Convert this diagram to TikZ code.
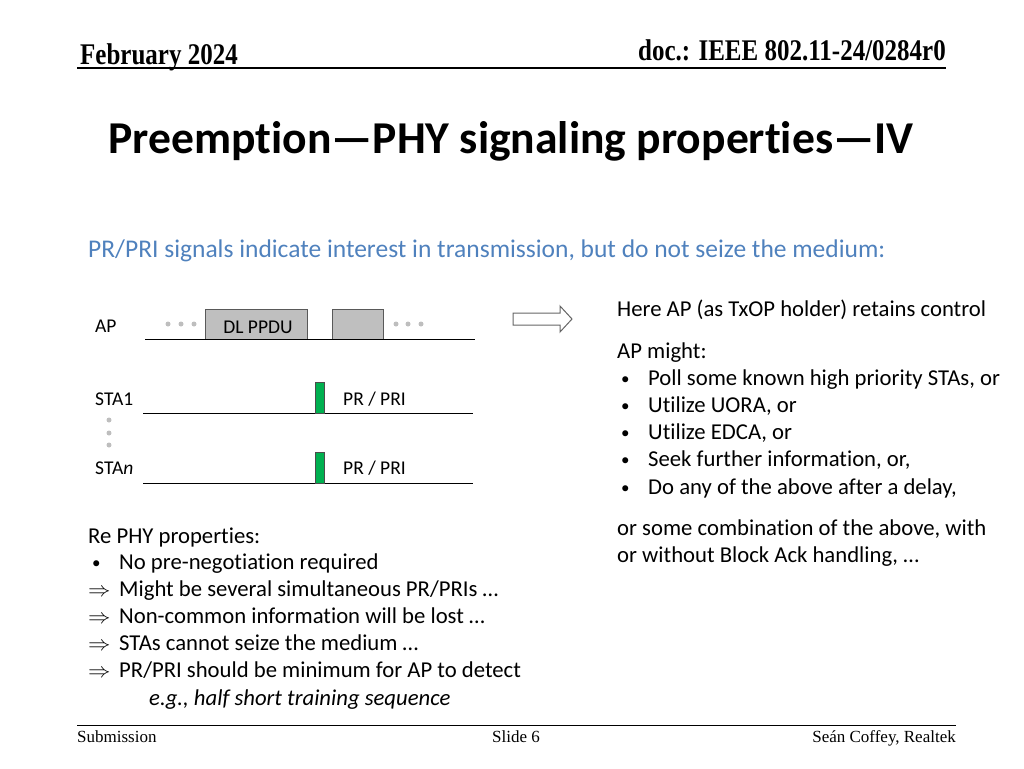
\documentclass[tikz,border=0pt]{standalone}
\usepackage{fontspec}
\usepackage{graphicx}
\setmainfont{Carlito}[Ligatures={NoCommon}]
\newfontfamily\timesf{Liberation Serif}
\definecolor{bluet}{RGB}{79,129,189}
\definecolor{boxgray}{RGB}{191,191,191}
\definecolor{boxedge}{RGB}{89,89,89}
\definecolor{dotgray}{RGB}{190,190,190}
\definecolor{pgreen}{RGB}{0,176,80}
\newcommand{\bul}{\makebox[31pt][l]{\hspace{4pt}\raisebox{1pt}{\fontsize{17}{17}\selectfont •}}}
\newcommand{\impl}{\makebox[31pt][l]{\scalebox{1.08}[1]{$\Rightarrow$}}}
\tikzset{
  body/.style={anchor=base west,inner sep=0pt,font=\fontsize{22.7}{27}\selectfont},
  diag/.style={anchor=base west,inner sep=0pt,font=\fontsize{19.5}{23}\selectfont},
  hdr/.style={inner sep=0pt,font=\timesf\bfseries\fontsize{25}{30}\selectfont},
  ftr/.style={inner sep=0pt,font=\timesf\fontsize{17}{20}\selectfont},
  ppdu/.style={draw=boxedge,fill=boxgray,line width=1pt},
  prbar/.style={draw=black!70,fill=pgreen,line width=0.8pt},
  tline/.style={line width=1pt,black},
  gdot/.style={circle,fill=dotgray,inner sep=0pt,minimum size=5pt}
}
\begin{document}
\begin{tikzpicture}[x=1pt,y=-1pt]
\useasboundingbox (0,0) rectangle (1024,768);
% header
\node[hdr,anchor=base west] (feb) at (80,64) {\scalebox{1}[1.2]{February 2024}};
\node[hdr,anchor=base east] (doc) at (946,60) {\scalebox{1}[1.2]{doc.: IEEE 802.11-24/0284r0}};
\coordinate (hl) at (77,68); \coordinate (hr) at (946,68);
\draw[line width=1.2pt] (hl) -- (hr);
% title
\node[inner sep=0pt,anchor=base,font=\bfseries\fontsize{45.6}{54}\selectfont] (title) at (511,153) {Preemption---PHY signaling properties---IV};
% subtitle
\node[body,text=bluet,font=\fontsize{25.5}{30}\selectfont] (sub) at (88,257) {PR/PRI signals indicate interest in transmission, but do not seize the medium:};
% diagram
\node[diag] (ap) at (95,332) {AP};
\node[diag] (sta1) at (95,405) {STA1};
\node[diag] (stan) at (95,474) {STA\textit{n}};
\coordinate (apl) at (145,339); \coordinate (apr) at (475,339);
\coordinate (s1l) at (143,413); \coordinate (s1r) at (473,413);
\coordinate (snl) at (143,483); \coordinate (snr) at (473,483);
\draw[ppdu] (205,339) rectangle (307,309);
\node[diag,anchor=base] (dl) at (258,333) {DL PPDU};
\draw[ppdu] (332,339) rectangle (383,309);
\draw[tline] (apl) -- (apr);
\draw[tline] (s1l) -- (s1r);
\draw[tline] (snl) -- (snr);
\foreach \x in {168,181,194,396,408,421} \node[gdot] at (\x,324) {};
\foreach \y in {420,433,445} \node[gdot] at (109,\y) {};
\draw[prbar] (315,413) rectangle (324,382);
\draw[prbar] (315,483) rectangle (324,452);
\node[diag] (pr1) at (343,405) {PR / PRI};
\node[diag] (prn) at (343,474) {PR / PRI};
% block arrow
\draw[draw=gray!80!black,line width=1pt,fill=white] (513,313) -- (560,313) -- (560,306) -- (572,319) -- (560,332) -- (560,325) -- (513,325) -- cycle;
% right text
\node[body] (r0) at (617,316) {Here AP (as TxOP holder) retains control};
\node[body] (r1) at (617,358) {AP might:};
\node[body] (r2) at (617,385) {\bul Poll some known high priority STAs, or};
\node[body] (r3) at (617,412) {\bul Utilize UORA, or};
\node[body] (r4) at (617,439) {\bul Utilize EDCA, or};
\node[body] (r5) at (617,466) {\bul Seek further information, or,};
\node[body] (r6) at (617,494) {\bul Do any of the above after a delay,};
\node[body] (r7) at (617,535) {or some combination of the above, with};
\node[body] (r8) at (617,562) {or without Block Ack handling, …};
% left text
\node[body] (l0) at (88,543) {Re PHY properties:};
\node[body] (l1) at (88,569) {\bul No pre-negotiation required};
\node[body] (l2) at (88,596) {\impl Might be several simultaneous PR/PRIs …};
\node[body] (l3) at (88,623) {\impl Non-common information will be lost …};
\node[body] (l4) at (88,650) {\impl STAs cannot seize the medium …};
\node[body] (l5) at (88,677) {\impl PR/PRI should be minimum for AP to detect};
\node[body,font=\itshape\fontsize{22.7}{27}\selectfont] (l6) at (149,705) {e.g., half short training sequence};
% footer
\coordinate (fl) at (77,725); \coordinate (fr) at (956,725);
\draw[line width=1pt] (fl) -- (fr);
\node[ftr,anchor=base west] (subm) at (77,742) {Submission};
\node[ftr,anchor=base] (slide) at (516,742) {Slide 6};
\node[ftr,anchor=base east] (auth) at (956,742) {Seán Coffey, Realtek};
\end{tikzpicture}
\end{document}
